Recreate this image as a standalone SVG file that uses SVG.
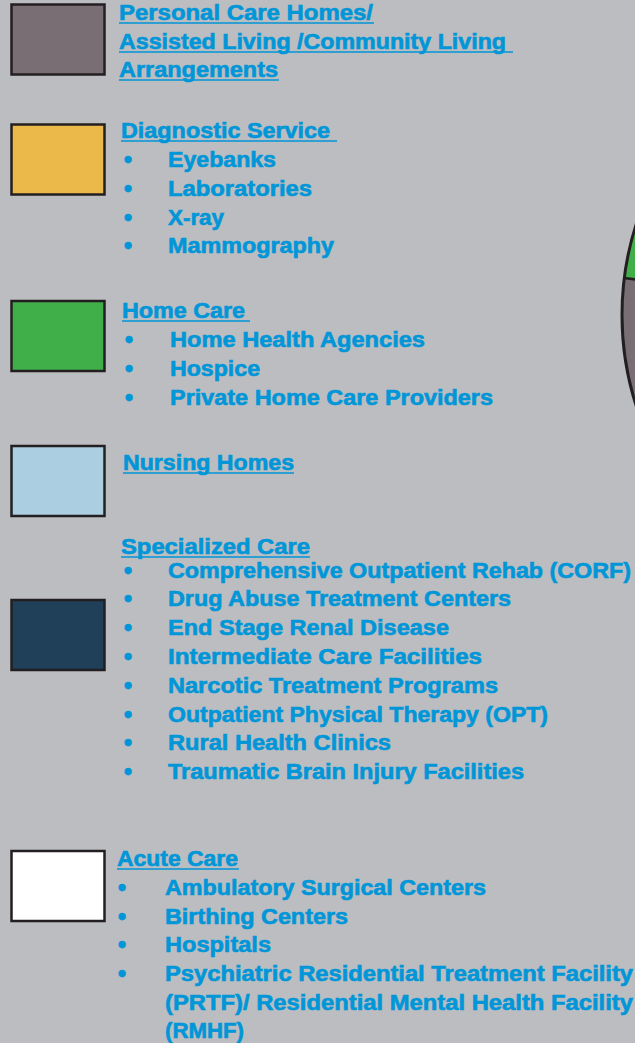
<svg xmlns="http://www.w3.org/2000/svg" width="635" height="1043" viewBox="0 0 635 1043">
<style>
.t{font-family:"Liberation Sans",Arial,sans-serif;font-weight:700;font-size:21.5px;fill:#0096D8;stroke:#0096D8;stroke-width:0.6}
.b{font-family:"Liberation Sans",Arial,sans-serif;font-weight:700;font-size:23px;fill:#0096D8;stroke:#0096D8;stroke-width:0.8;text-anchor:middle}
.u{stroke:#0096D8;stroke-width:1.6}
.box{stroke:#231F20;stroke-width:2.5}
</style>
<rect width="635" height="1043" fill="#BCBDC0"/>
<g id="pie">
<circle cx="920" cy="315" r="298" fill="#786E73"/>
<path d="M920,315 L624,278 A298,298 0 0 1 920,17 Z" fill="#40AE49"/>
<line x1="920" y1="315" x2="624" y2="278" stroke="#231F20" stroke-width="2.5"/>
<circle cx="920" cy="315" r="298" fill="none" stroke="#231F20" stroke-width="3"/>
</g>
<g id="personal">
<rect class="box" x="11.5" y="4.5" width="93" height="70" fill="#786E73"/>
<text class="t" x="119" y="20" textLength="254" lengthAdjust="spacingAndGlyphs">Personal Care Homes/</text>
<text class="t" x="119" y="49" textLength="387" lengthAdjust="spacingAndGlyphs">Assisted Living /Community Living</text>
<text class="t" x="119" y="77" textLength="159" lengthAdjust="spacingAndGlyphs">Arrangements</text>
<line class="u" x1="119" y1="23" x2="374" y2="23"/>
<line class="u" x1="119" y1="52" x2="513" y2="52"/>
<line class="u" x1="119" y1="80" x2="279" y2="80"/>
</g>
<g id="diagnostic">
<rect class="box" x="11.5" y="124.5" width="93" height="70" fill="#EBB84A"/>
<text class="t" x="121" y="138" textLength="209" lengthAdjust="spacingAndGlyphs">Diagnostic Service</text>
<line class="u" x1="121" y1="141" x2="337" y2="141"/>
<text class="b" x="128" y="168">•</text><text class="t" x="168" y="167" textLength="108" lengthAdjust="spacingAndGlyphs">Eyebanks</text>
<text class="b" x="128" y="197">•</text><text class="t" x="168" y="196" textLength="144" lengthAdjust="spacingAndGlyphs">Laboratories</text>
<text class="b" x="128" y="226">•</text><text class="t" x="168" y="225" textLength="56" lengthAdjust="spacingAndGlyphs">X-ray</text>
<text class="b" x="128" y="254">•</text><text class="t" x="168" y="253" textLength="166" lengthAdjust="spacingAndGlyphs">Mammography</text>
</g>
<g id="homecare">
<rect class="box" x="11.5" y="301" width="93" height="70" fill="#40AE49"/>
<text class="t" x="122" y="318" textLength="123" lengthAdjust="spacingAndGlyphs">Home Care</text>
<line class="u" x1="122" y1="321" x2="250" y2="321"/>
<text class="b" x="129" y="348">•</text><text class="t" x="170" y="347" textLength="255" lengthAdjust="spacingAndGlyphs">Home Health Agencies</text>
<text class="b" x="129" y="377">•</text><text class="t" x="170" y="376" textLength="90" lengthAdjust="spacingAndGlyphs">Hospice</text>
<text class="b" x="129" y="406">•</text><text class="t" x="170" y="405" textLength="323" lengthAdjust="spacingAndGlyphs">Private Home Care Providers</text>
</g>
<g id="nursing">
<rect class="box" x="11.5" y="446" width="93" height="70" fill="#ABCFE0"/>
<text class="t" x="123" y="470" textLength="171" lengthAdjust="spacingAndGlyphs">Nursing Homes</text>
<line class="u" x1="123" y1="473" x2="294" y2="473"/>
</g>
<g id="specialized">
<rect class="box" x="11.5" y="600" width="93" height="70" fill="#1F4058"/>
<text class="t" x="121" y="554" textLength="189" lengthAdjust="spacingAndGlyphs">Specialized Care</text>
<line class="u" x1="121" y1="557" x2="310" y2="557"/>
<text class="b" x="128" y="579">•</text><text class="t" x="168" y="578" textLength="463" lengthAdjust="spacingAndGlyphs">Comprehensive Outpatient Rehab (CORF)</text>
<text class="b" x="128" y="607">•</text><text class="t" x="168" y="606" textLength="343" lengthAdjust="spacingAndGlyphs">Drug Abuse Treatment Centers</text>
<text class="b" x="128" y="636">•</text><text class="t" x="168" y="635" textLength="281" lengthAdjust="spacingAndGlyphs">End Stage Renal Disease</text>
<text class="b" x="128" y="665">•</text><text class="t" x="168" y="664" textLength="314" lengthAdjust="spacingAndGlyphs">Intermediate Care Facilities</text>
<text class="b" x="128" y="694">•</text><text class="t" x="168" y="693" textLength="330" lengthAdjust="spacingAndGlyphs">Narcotic Treatment Programs</text>
<text class="b" x="128" y="723">•</text><text class="t" x="168" y="722" textLength="380" lengthAdjust="spacingAndGlyphs">Outpatient Physical Therapy (OPT)</text>
<text class="b" x="128" y="751">•</text><text class="t" x="168" y="750" textLength="223" lengthAdjust="spacingAndGlyphs">Rural Health Clinics</text>
<text class="b" x="128" y="780">•</text><text class="t" x="168" y="779" textLength="356" lengthAdjust="spacingAndGlyphs">Traumatic Brain Injury Facilities</text>
</g>
<g id="acute">
<rect class="box" x="11.5" y="851" width="93" height="70" fill="#FFFFFF"/>
<text class="t" x="117" y="866" textLength="121" lengthAdjust="spacingAndGlyphs">Acute Care</text>
<line class="u" x1="117" y1="869" x2="239" y2="869"/>
<text class="b" x="122" y="896">•</text><text class="t" x="165" y="895" textLength="321" lengthAdjust="spacingAndGlyphs">Ambulatory Surgical Centers</text>
<text class="b" x="122" y="925">•</text><text class="t" x="165" y="924" textLength="183" lengthAdjust="spacingAndGlyphs">Birthing Centers</text>
<text class="b" x="122" y="953">•</text><text class="t" x="165" y="952" textLength="106" lengthAdjust="spacingAndGlyphs">Hospitals</text>
<text class="b" x="122" y="982">•</text><text class="t" x="165" y="981" textLength="468" lengthAdjust="spacingAndGlyphs">Psychiatric Residential Treatment Facility</text>
<text class="t" x="165" y="1010" textLength="468" lengthAdjust="spacingAndGlyphs">(PRTF)/ Residential Mental Health Facility</text>
<text class="t" x="165" y="1038" textLength="79" lengthAdjust="spacingAndGlyphs">(RMHF)</text>
</g>
</svg>
